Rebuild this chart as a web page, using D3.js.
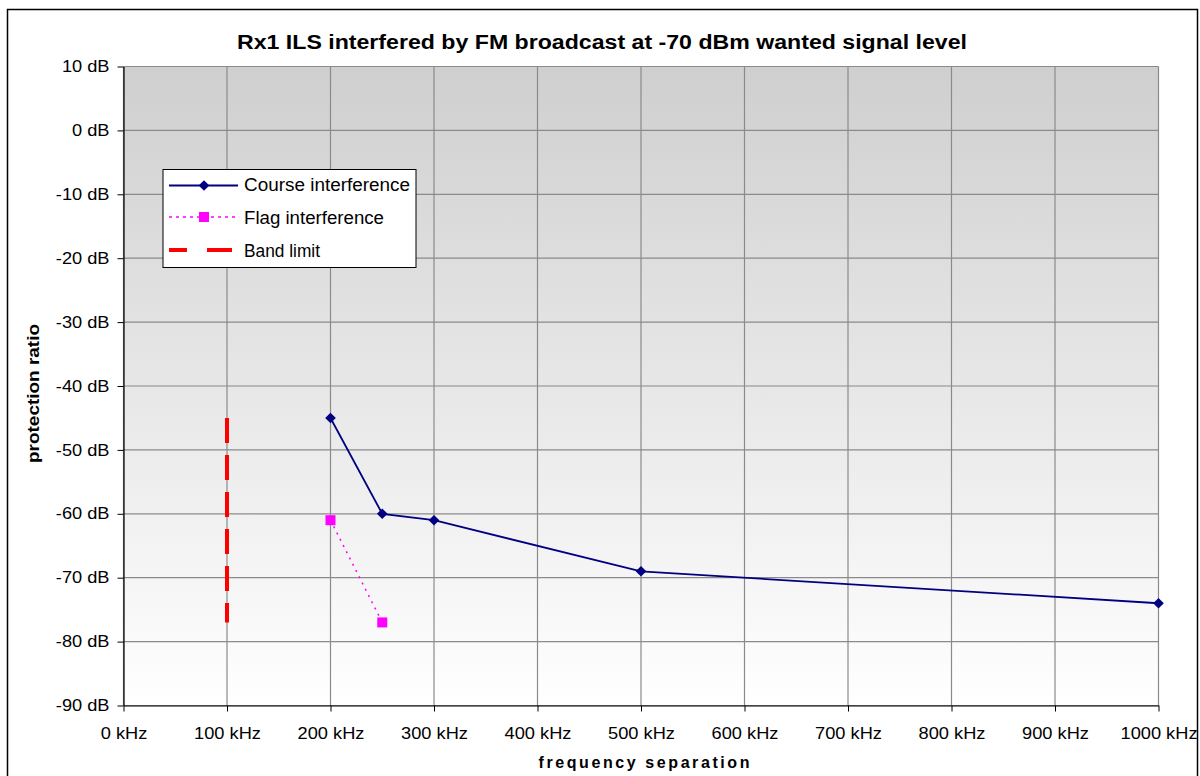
<!DOCTYPE html>
<html>
<head>
<meta charset="utf-8">
<script src="https://cdn.jsdelivr.net/npm/d3@7"></script>
<style>
  body { margin: 0; background: #fff; }
  text { font-family: "Liberation Sans", Arial, sans-serif; }
</style>
</head>
<body>
<div id="chart"></div>
<script>

// data
var courseFreq  = [200, 250, 300, 500, 1000],
    courseRatio = [-45, -60, -61, -69, -74];

var flagFreq  = [200, 250],
    flagRatio = [-61, -77];

var bandFreq  = [100, 100],
    bandRatio = [-45, -77];

var xTicks = [0, 100, 200, 300, 400, 500, 600, 700, 800, 900, 1000],
    yTicks = [10, 0, -10, -20, -30, -40, -50, -60, -70, -80, -90];

var legendLabels = ["Course interference", "Flag interference", "Band limit"],
    legendWidths = [166, 140, 76];   // text widths in the reference (it is stretched sideways)

var width = 1200, height = 776;
var margin = {left: 123.5, right: 1200 - 1158.5, top: 66.5, bottom: 776 - 705.5};
var stretch = 1.14;   // the whole reference picture is stretched horizontally

var svg = d3.select("#chart").append("svg").attr("width", width).attr("height", height);

// outer chart border
svg.append("rect")
   .attr("x", 7.5).attr("y", 9.5)
   .attr("width", 1190).attr("height", 790)
   .attr("fill", "#fff").attr("stroke", "#000").attr("stroke-width", 1.5);

var x = d3.scaleLinear().domain([0, 1000]).range([margin.left, width - margin.right]);
var y = d3.scaleLinear().domain([-90, 10]).range([height - margin.bottom, margin.top]);

// plot background gradient
var grad = svg.append("defs").append("linearGradient")
              .attr("id", "bg").attr("x1", 0).attr("y1", 0).attr("x2", 0).attr("y2", 1);
grad.append("stop").attr("offset", "0%").attr("stop-color", "#cfcfcf");
grad.append("stop").attr("offset", "100%").attr("stop-color", "#ffffff");

svg.append("rect")
   .attr("x", x(0)).attr("y", y(10))
   .attr("width", x(1000) - x(0)).attr("height", y(-90) - y(10))
   .attr("fill", "url(#bg)");

// grid
svg.append("g").selectAll("line").data(xTicks).enter().append("line")
   .attr("x1", function(d) { return x(d); }).attr("x2", function(d) { return x(d); })
   .attr("y1", y(10)).attr("y2", y(-90))
   .attr("stroke", "#8a8a8a").attr("stroke-width", 1.2);

svg.append("g").selectAll("line").data(yTicks).enter().append("line")
   .attr("x1", x(0)).attr("x2", x(1000))
   .attr("y1", function(d) { return y(d); }).attr("y2", function(d) { return y(d); })
   .attr("stroke", "#8a8a8a").attr("stroke-width", 1.2);

// axes
var xAxis = svg.append("g")
   .attr("transform", "translate(0," + y(-90) + ")")
   .call(d3.axisBottom(x).tickValues(xTicks).tickSize(6).tickSizeOuter(0)
           .tickFormat(function(d) { return d + " kHz"; }));

var yAxis = svg.append("g")
   .attr("transform", "translate(" + x(0) + ",0)")
   .call(d3.axisLeft(y).tickValues(yTicks).tickSize(6).tickSizeOuter(0)
           .tickFormat(function(d) { return d + " dB"; }));

[xAxis, yAxis].forEach(function(a) {
  a.select(".domain").attr("stroke", "#000").attr("stroke-width", 1.2);
  a.selectAll(".tick line").attr("stroke", "#000");
  a.selectAll(".tick text")
   .attr("font-family", "Liberation Sans, Arial, sans-serif")
   .attr("font-size", 16).attr("fill", "#000")
   .attr("transform", "scale(" + stretch + ",1)");
});
xAxis.selectAll(".tick text").attr("y", 33.5).attr("dy", 0);
yAxis.selectAll(".tick text").attr("x", -14 / stretch);

// band limit
svg.append("line")
   .attr("x1", x(bandFreq[0])).attr("x2", x(bandFreq[1]))
   .attr("y1", y(bandRatio[0])).attr("y2", y(bandRatio[1]))
   .attr("stroke", "#ff0000").attr("stroke-width", 4)
   .attr("stroke-dasharray", "25,12");

// course interference
var course = courseFreq.map(function(d, i) { return [d, courseRatio[i]]; });
var line = d3.line().x(function(d) { return x(d[0]); }).y(function(d) { return y(d[1]); });

svg.append("path").datum(course)
   .attr("d", line).attr("fill", "none")
   .attr("stroke", "#000080").attr("stroke-width", 1.8);

svg.append("g").selectAll("path").data(course).enter().append("path")
   .attr("d", d3.symbol().type(d3.symbolDiamond2).size(72))
   .attr("transform", function(d) { return "translate(" + x(d[0]) + "," + y(d[1]) + ")"; })
   .attr("fill", "#000080");

// flag interference
var flag = flagFreq.map(function(d, i) { return [d, flagRatio[i]]; });

svg.append("path").datum(flag)
   .attr("d", line).attr("fill", "none")
   .attr("stroke", "#ff00ff").attr("stroke-width", 1.5)
   .attr("stroke-dasharray", "2,5");

svg.append("g").selectAll("rect").data(flag).enter().append("rect")
   .attr("x", function(d) { return x(d[0]) - 5; })
   .attr("y", function(d) { return y(d[1]) - 5; })
   .attr("width", 10).attr("height", 10)
   .attr("fill", "#ff00ff");

// legend
var leg = svg.append("g");
leg.append("rect")
   .attr("x", 163).attr("y", 169.5).attr("width", 253).attr("height", 98)
   .attr("fill", "#fff").attr("stroke", "#000").attr("stroke-width", 1);

var legY = [185.5, 217, 250],
    legBase = [190.7, 224, 256.7];

leg.append("line").attr("x1", 169).attr("x2", 238).attr("y1", legY[0]).attr("y2", legY[0])
   .attr("stroke", "#000080").attr("stroke-width", 1.8);
leg.append("path").attr("d", d3.symbol().type(d3.symbolDiamond2).size(72))
   .attr("transform", "translate(204," + legY[0] + ")").attr("fill", "#000080");

leg.append("line").attr("x1", 169).attr("x2", 238).attr("y1", legY[1]).attr("y2", legY[1])
   .attr("stroke", "#ff00ff").attr("stroke-width", 1.5).attr("stroke-dasharray", "3,4");
leg.append("rect").attr("x", 199).attr("y", legY[1] - 5).attr("width", 10).attr("height", 10)
   .attr("fill", "#ff00ff");

leg.append("line").attr("x1", 169).attr("x2", 232).attr("y1", legY[2]).attr("y2", legY[2])
   .attr("stroke", "#ff0000").attr("stroke-width", 4).attr("stroke-dasharray", "18,20,25,100");

leg.selectAll("text.lab").data(legendLabels).enter().append("text")
   .attr("class", "lab")
   .attr("x", 244).attr("y", function(d, i) { return legBase[i]; })
   .attr("font-size", 17.5).attr("fill", "#000")
   .attr("textLength", function(d, i) { return legendWidths[i]; })
   .attr("lengthAdjust", "spacingAndGlyphs")
   .text(function(d) { return d; });

// titles
svg.append("text")
   .attr("x", 602).attr("y", 49).attr("text-anchor", "middle")
   .attr("font-size", 19.5).attr("font-weight", "bold")
   .attr("textLength", 730).attr("lengthAdjust", "spacingAndGlyphs")
   .text("Rx1 ILS interfered by FM broadcast at -70 dBm wanted signal level");

svg.append("text")
   .attr("x", 644).attr("y", 768).attr("text-anchor", "middle")
   .attr("font-size", 16).attr("font-weight", "bold")
   .attr("textLength", 211).attr("lengthAdjust", "spacing")
   .text("frequency separation");

svg.append("text")
   .attr("transform", "translate(39,393.5) rotate(-90)")
   .attr("text-anchor", "middle")
   .attr("font-size", 16).attr("font-weight", "bold")
   .attr("textLength", 139).attr("lengthAdjust", "spacingAndGlyphs")
   .text("protection ratio");

</script>
</body>
</html>
